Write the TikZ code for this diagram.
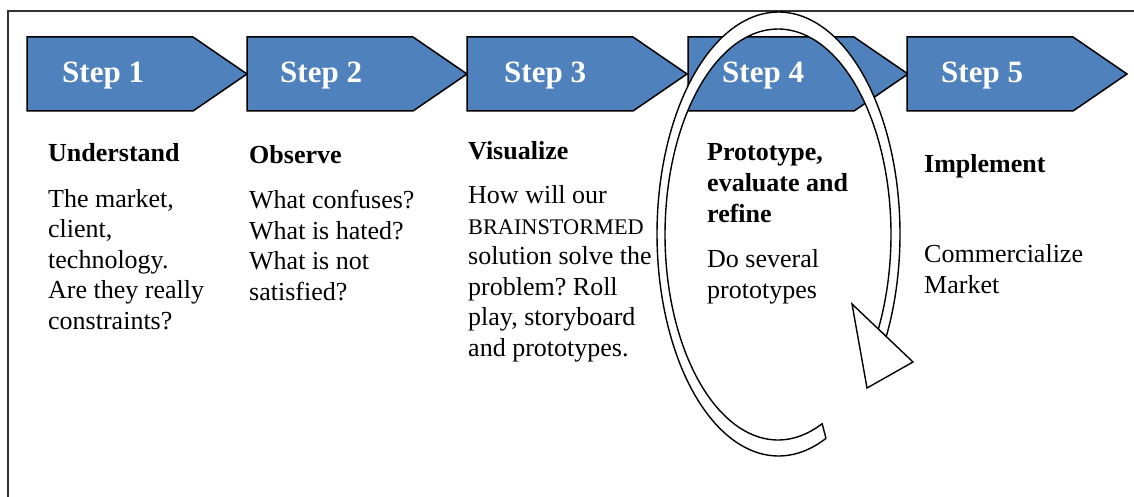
\documentclass[tikz,border=0pt]{standalone}
\usepackage{fontspec}
\setmainfont{Liberation Serif}
\definecolor{stepblue}{HTML}{4F81BD}
\definecolor{framegray}{HTML}{333333}
\frenchspacing
\begin{document}
\begin{tikzpicture}[x=1pt,y=-1pt,
  stepshape/.style={fill=stepblue, draw=black, line width=1.5pt, line join=miter},
  steplabel/.style={anchor=base west, inner sep=0pt, text=white, font=\fontsize{31}{37}\selectfont\bfseries},
  head/.style={anchor=base west, inner sep=0pt, font=\fontsize{26}{30.5}\selectfont\bfseries, align=left},
  body/.style={anchor=base west, inner sep=0pt, font=\fontsize{26}{30.5}\selectfont, align=left},
  band/.style={fill=white, draw=black, line width=1.4pt, line join=round},
]
\useasboundingbox (0,0) rectangle (1134,497);
% frame (open at right and bottom)
\draw[framegray, line width=2pt] (1134,11) -- (8,11) -- (8,497);

% step arrows
\foreach \L/\n in {27/1, 247/2, 467/3, 688/4, 907/5}{
  \draw[stepshape] (\L,37) -- (\L+166,37) -- (\L+220,74) -- (\L+166,111) -- (\L,111) -- cycle;
}
\node[steplabel] (s1) at (62,83) {Step 1};
\node[steplabel] (s2) at (280,83) {Step 2};
\node[steplabel] (s3) at (504,83) {Step 3};
\node[steplabel] (s4) at (722,83) {Step 4};
\node[steplabel] (s5) at (941,83) {Step 5};

% column texts (anchor = baseline of the last line)
\node[head] (h1) at (48,162) {Understand};
\node[body] (b1) at (48,329) {The market,\\client,\\technology.\\Are they really\\constraints?};

\node[head] (h2) at (249,164) {Observe};
\node[body] (b2) at (249,300) {What confuses?\\What is hated?\\What is not\\satisfied?};

\node[head] (h3) at (468,160) {Visualize};
\node[body] (b3) at (468,356) {How will our\\{\fontsize{22.3}{30.5}\selectfont BRAINSTORMED}\\solution solve the\\problem? Roll\\play, storyboard\\and prototypes.};

\node[head] (h4) at (707,222) {Prototype,\\evaluate and\\refine};
\node[body] (b4) at (707,298) {Do several\\prototypes};

\node[head] (h5) at (924,172) {Implement};
\node[body] (b5) at (924,293) {Commercialize\\Market};

% circular arrow (band + head)
\draw[band]
  plot[domain=67:387.5, samples=160, smooth] ({778.5+121.5*cos(\x)},{234+222*sin(\x)})
  -- plot[domain=387.5:67, samples=160, smooth] ({778+113*cos(\x)},{234.5+205.5*sin(\x)})
  -- cycle;
\coordinate (hA) at (852,304);
\coordinate (hB) at (913,362);
\coordinate (hC) at (867,388);
\draw[band, line join=miter] (hA) -- (hB) -- (hC) -- cycle;
\end{tikzpicture}
\end{document}
